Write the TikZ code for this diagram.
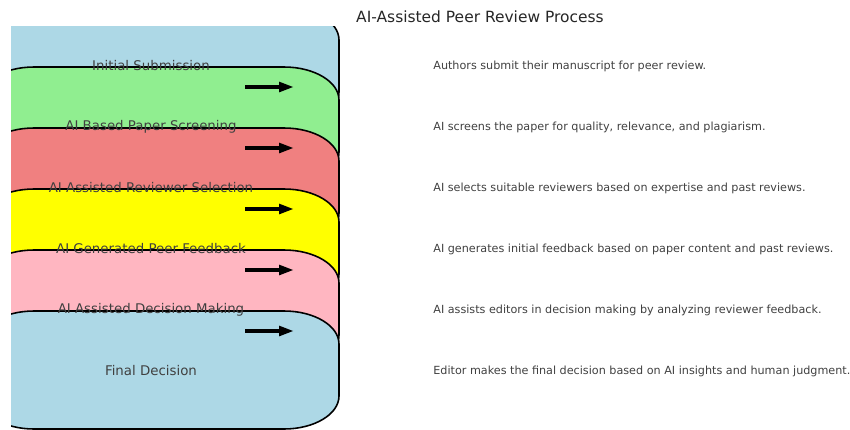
\documentclass[tikz,border=0pt]{standalone}
\usepackage{fontspec}
\setmainfont{DejaVu Sans}
\usepackage{tikz}
\usetikzlibrary{arrows.meta}

\definecolor{lblue}{HTML}{ADD8E6}
\definecolor{lgreen}{HTML}{90EE90}
\definecolor{lcoral}{HTML}{F08080}
\definecolor{lyellow}{HTML}{FFFF00}
\definecolor{lpink}{HTML}{FFB6C1}

\tikzset{
  stageline/.style={draw=black, line width=0.9pt},
  stagelabel/.style={text=black!75, font=\fontsize{7.6}{9}\selectfont},
  stagenote/.style={anchor=west, inner sep=0pt, text=black!75, font=\fontsize{6.37}{8}\selectfont},
  flowarrow/.style={-{Triangle[length=8.5pt,width=5.4pt]}, line width=2.1pt}
}

% wide box with elliptic corners: #1 fill, #2 top edge
\newcommand{\stagebox}[2]{%
  \draw[stageline, fill=#1] (-21,#2+33) .. controls (-21,#2+14.8) and (3.6,#2) .. (34,#2)
    -- (284,#2) .. controls (314.4,#2) and (339,#2+14.8) .. (339,#2+33)
    -- (339,#2+85) .. controls (339,#2+103.2) and (314.4,#2+118) .. (284,#2+118)
    -- (34,#2+118) .. controls (3.6,#2+118) and (-21,#2+103.2) .. (-21,#2+85) -- cycle;}

\begin{document}
\begin{tikzpicture}[x=0.02cm,y=-0.02cm]
\useasboundingbox (0,0) rectangle (850,430);
\node[text=black!85, font=\fontsize{8.8}{10}\selectfont](title) at (480,17) {AI-Assisted Peer Review Process};

\begin{scope}
\clip (11,26) rectangle (860,430);
\stagebox{lblue}{7}
\stagebox{lgreen}{67}
\stagebox{lcoral}{128}
\stagebox{lyellow}{189}
\stagebox{lpink}{250}
\stagebox{lblue}{311}
\end{scope}

\node[stagelabel](l1) at (151,66) {Initial Submission};
\node[stagelabel](l2) at (151,127) {AI Based Paper Screening};
\node[stagelabel](l3) at (151,188) {AI Assisted Reviewer Selection};
\node[stagelabel](l4) at (151,249) {AI Generated Peer Feedback};
\node[stagelabel](l5) at (151,310) {AI Assisted Decision Making};
\node[stagelabel](l6) at (151,371) {Final Decision};

\node[stagenote](n1) at (433,66) {Authors submit their manuscript for peer review.};
\node[stagenote](n2) at (433,127) {AI screens the paper for quality, relevance, and plagiarism.};
\node[stagenote](n3) at (433,188) {AI selects suitable reviewers based on expertise and past reviews.};
\node[stagenote](n4) at (433,249) {AI generates initial feedback based on paper content and past reviews.};
\node[stagenote](n5) at (433,310) {AI assists editors in decision making by analyzing reviewer feedback.};
\node[stagenote](n6) at (433,371) {Editor makes the final decision based on AI insights and human judgment.};

\coordinate (a1) at (245,87);  \coordinate (b1) at (294,87);
\coordinate (a2) at (245,148); \coordinate (b2) at (294,148);
\coordinate (a3) at (245,209); \coordinate (b3) at (294,209);
\coordinate (a4) at (245,270); \coordinate (b4) at (294,270);
\coordinate (a5) at (245,331); \coordinate (b5) at (294,331);

\draw[flowarrow] (a1) -- (b1);
\draw[flowarrow] (a2) -- (b2);
\draw[flowarrow] (a3) -- (b3);
\draw[flowarrow] (a4) -- (b4);
\draw[flowarrow] (a5) -- (b5);
\end{tikzpicture}
\end{document}
